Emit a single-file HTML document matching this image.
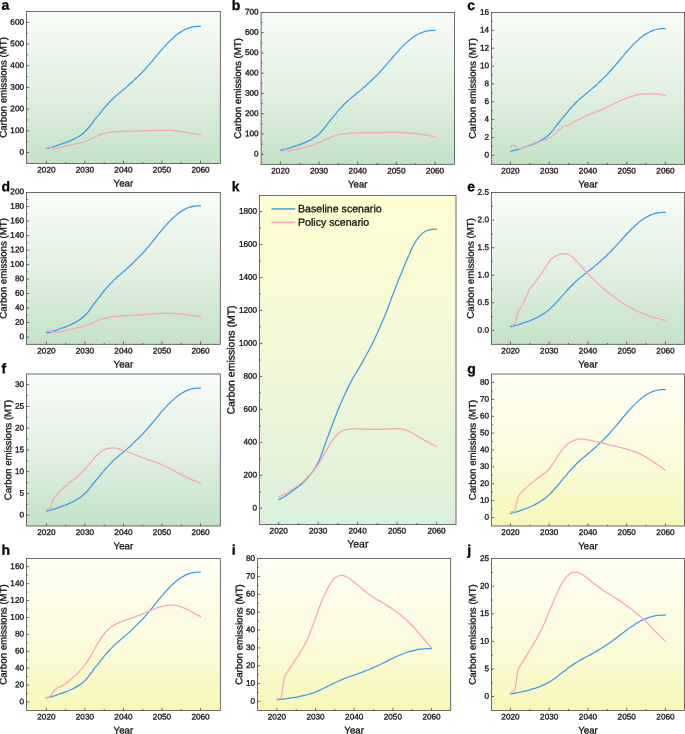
<!DOCTYPE html>
<html lang="en"><head><meta charset="utf-8"><title>Carbon emissions scenarios</title>
<style>html,body{margin:0;padding:0;background:#fff}body{width:685px;height:734px;overflow:hidden}svg{display:block;will-change:transform}text{font-family:"Liberation Sans",Arial,Helvetica,sans-serif;fill:#111;stroke:#111;stroke-width:0.3px;paint-order:stroke fill}.tk{font-size:8.2px}.ti{font-size:9.7px}.lt{font-size:14px;font-weight:bold;fill:#000;stroke:#000;stroke-width:0.25px}.lg{font-size:10.6px}.ax{stroke:#3c3c3c;stroke-width:0.75;fill:none}.tkm{stroke:#3a3a3a;stroke-width:0.72;fill:none}.bl{stroke:#3f9ae8;stroke-width:1.25;fill:none;stroke-linecap:round;stroke-linejoin:round}.pk{stroke:#f5a6b8;stroke-width:1.25;fill:none;stroke-linecap:round;stroke-linejoin:round}</style></head><body>
<svg width="685" height="734" viewBox="0 0 685 734">
<defs><linearGradient id="gg" x1="0" y1="0" x2="0" y2="1"><stop offset="0" stop-color="#f7fcf7"/><stop offset="0.5" stop-color="#e3f0e3"/><stop offset="1" stop-color="#c4e2c6"/></linearGradient><linearGradient id="gy" x1="0" y1="0" x2="0" y2="1"><stop offset="0" stop-color="#fffff3"/><stop offset="0.5" stop-color="#fbfbe0"/><stop offset="1" stop-color="#f8f7b8"/></linearGradient><linearGradient id="gk" x1="0" y1="0" x2="0" y2="1"><stop offset="0" stop-color="#fffed3"/><stop offset="0.5" stop-color="#f3f8d8"/><stop offset="1" stop-color="#daefda"/></linearGradient></defs>
<rect width="685" height="734" fill="#fff"/>
<g id="panel-a">
<rect x="26.50" y="11.50" width="193.80" height="151.90" fill="url(#gg)"/>
<path class="bl" d="M46.40 148.55 C47.68 148.28 48.97 148.01 50.25 147.67 C51.54 147.34 52.82 146.94 54.10 146.54 C55.39 146.13 56.67 145.64 57.96 145.21 C59.24 144.78 60.53 144.38 61.81 143.95 C63.09 143.52 64.38 143.10 65.66 142.63 C66.95 142.15 68.23 141.66 69.52 141.11 C70.80 140.57 72.08 139.98 73.37 139.35 C74.65 138.72 75.94 138.06 77.22 137.33 C78.50 136.60 79.79 135.85 81.07 134.93 C82.36 134.02 83.64 133.01 84.92 131.78 C86.21 130.55 87.49 129.06 88.78 127.49 C90.06 125.92 91.35 123.98 92.63 122.32 C93.91 120.66 95.20 119.10 96.48 117.53 C97.77 115.95 99.05 114.46 100.33 112.86 C101.62 111.26 102.90 109.45 104.19 107.94 C105.47 106.43 106.76 105.15 108.04 103.78 C109.32 102.41 110.61 101.02 111.89 99.74 C113.18 98.46 114.46 97.24 115.75 96.09 C117.03 94.93 118.31 93.88 119.60 92.81 C120.88 91.73 122.17 90.72 123.45 89.65 C124.73 88.58 126.02 87.49 127.30 86.37 C128.59 85.26 129.87 84.14 131.16 82.97 C132.44 81.79 133.72 80.53 135.01 79.31 C136.29 78.09 137.58 76.89 138.86 75.65 C140.14 74.41 141.43 73.21 142.71 71.87 C144.00 70.53 145.28 69.03 146.56 67.58 C147.85 66.13 149.13 64.66 150.42 63.17 C151.70 61.67 152.99 60.16 154.27 58.63 C155.55 57.09 156.84 55.49 158.12 53.96 C159.41 52.42 160.69 50.89 161.97 49.42 C163.26 47.95 164.54 46.52 165.83 45.13 C167.11 43.74 168.40 42.37 169.68 41.09 C170.96 39.81 172.25 38.57 173.53 37.44 C174.82 36.30 176.10 35.25 177.38 34.28 C178.67 33.32 179.95 32.43 181.24 31.63 C182.52 30.84 183.81 30.11 185.09 29.49 C186.37 28.86 187.66 28.28 188.94 27.85 C190.23 27.42 191.51 27.05 192.79 26.84 C194.08 26.64 195.36 26.44 196.65 26.40 C197.93 26.36 199.22 26.35 200.50 26.34"/>
<path class="pk" d="M46.40 148.13 C47.68 147.52 48.97 147.05 50.25 147.05 C51.54 147.05 52.82 149.00 54.10 149.00 C55.39 149.00 56.67 148.68 57.96 148.42 C59.24 148.16 60.53 147.56 61.81 147.17 C63.09 146.77 64.38 146.39 65.66 146.05 C66.95 145.71 68.23 145.41 69.52 145.13 C70.80 144.84 72.08 144.60 73.37 144.34 C74.65 144.08 75.94 143.83 77.22 143.55 C78.50 143.27 79.79 142.99 81.07 142.65 C82.36 142.31 83.64 141.95 84.92 141.50 C86.21 141.06 87.49 140.52 88.78 139.95 C90.06 139.39 91.35 138.72 92.63 138.10 C93.91 137.49 95.20 136.83 96.48 136.24 C97.77 135.66 99.05 135.07 100.33 134.59 C101.62 134.11 102.90 133.66 104.19 133.33 C105.47 132.99 106.76 132.73 108.04 132.52 C109.32 132.31 110.61 132.14 111.89 132.01 C113.18 131.88 114.46 131.78 115.75 131.70 C117.03 131.63 118.31 131.59 119.60 131.54 C120.88 131.50 122.17 131.47 123.45 131.44 C124.73 131.40 126.02 131.37 127.30 131.33 C128.59 131.30 129.87 131.26 131.16 131.23 C132.44 131.19 133.72 131.15 135.01 131.12 C136.29 131.08 137.58 131.05 138.86 131.01 C140.14 130.97 141.43 130.94 142.71 130.90 C144.00 130.86 145.28 130.81 146.56 130.77 C147.85 130.73 149.13 130.68 150.42 130.63 C151.70 130.59 152.99 130.54 154.27 130.51 C155.55 130.47 156.84 130.43 158.12 130.41 C159.41 130.40 160.69 130.38 161.97 130.38 C163.26 130.38 164.54 130.39 165.83 130.40 C167.11 130.41 168.40 130.44 169.68 130.47 C170.96 130.51 172.25 130.57 173.53 130.65 C174.82 130.74 176.10 130.90 177.38 131.06 C178.67 131.22 179.95 131.45 181.24 131.64 C182.52 131.84 183.81 132.05 185.09 132.26 C186.37 132.47 187.66 132.67 188.94 132.88 C190.23 133.09 191.51 133.31 192.79 133.53 C194.08 133.75 195.36 133.98 196.65 134.21 C197.93 134.44 199.22 134.67 200.50 134.91"/>
<path class="tkm" d="M46.40 163.40V160.70M65.66 163.40V162.00M84.92 163.40V160.70M104.19 163.40V162.00M123.45 163.40V160.70M142.71 163.40V162.00M161.97 163.40V160.70M181.24 163.40V162.00M200.50 163.40V160.70M26.50 152.46H29.20M26.50 130.79H29.20M26.50 109.12H29.20M26.50 87.45H29.20M26.50 65.78H29.20M26.50 44.11H29.20M26.50 22.44H29.20M26.50 141.63H27.90M26.50 119.96H27.90M26.50 98.29H27.90M26.50 76.61H27.90M26.50 54.94H27.90M26.50 33.27H27.90"/>
<rect class="ax" x="26.50" y="11.50" width="193.80" height="151.90"/>
<text class="tk" text-anchor="end" transform="translate(24.00 154.71) rotate(0.05)">0</text>
<text class="tk" text-anchor="end" transform="translate(24.00 133.04) rotate(0.05)">100</text>
<text class="tk" text-anchor="end" transform="translate(24.00 111.37) rotate(0.05)">200</text>
<text class="tk" text-anchor="end" transform="translate(24.00 89.70) rotate(0.05)">300</text>
<text class="tk" text-anchor="end" transform="translate(24.00 68.03) rotate(0.05)">400</text>
<text class="tk" text-anchor="end" transform="translate(24.00 46.36) rotate(0.05)">500</text>
<text class="tk" text-anchor="end" transform="translate(24.00 24.69) rotate(0.05)">600</text>
<text class="tk" text-anchor="middle" transform="translate(46.40 172.50) rotate(0.05)">2020</text>
<text class="tk" text-anchor="middle" transform="translate(84.92 172.50) rotate(0.05)">2030</text>
<text class="tk" text-anchor="middle" transform="translate(123.45 172.50) rotate(0.05)">2040</text>
<text class="tk" text-anchor="middle" transform="translate(161.97 172.50) rotate(0.05)">2050</text>
<text class="tk" text-anchor="middle" transform="translate(200.50 172.50) rotate(0.05)">2060</text>
<text class="ti" text-anchor="middle" transform="translate(123.40 186.60) rotate(0.05)">Year</text>
<text class="ti" text-anchor="middle" transform="translate(6.50 87.45) rotate(-89.95)">Carbon emissions (MT)</text>
<text class="lt" transform="translate(1.50 9.70) rotate(0.05)">a</text>
</g>
<g id="panel-b">
<rect x="261.10" y="12.40" width="193.40" height="151.90" fill="url(#gg)"/>
<path class="bl" d="M280.40 150.46 C281.69 150.19 282.98 149.92 284.26 149.59 C285.55 149.26 286.84 148.88 288.13 148.48 C289.42 148.07 290.71 147.60 292.00 147.17 C293.28 146.75 294.57 146.36 295.86 145.93 C297.15 145.51 298.44 145.10 299.72 144.63 C301.01 144.17 302.30 143.68 303.59 143.15 C304.88 142.61 306.17 142.03 307.45 141.41 C308.74 140.79 310.03 140.15 311.32 139.43 C312.61 138.71 313.90 137.97 315.19 137.07 C316.47 136.17 317.76 135.18 319.05 133.98 C320.34 132.77 321.63 131.30 322.91 129.76 C324.20 128.22 325.49 126.31 326.78 124.68 C328.07 123.05 329.36 121.52 330.64 119.97 C331.93 118.42 333.22 116.95 334.51 115.39 C335.80 113.82 337.09 112.03 338.38 110.55 C339.66 109.07 340.95 107.80 342.24 106.46 C343.53 105.12 344.82 103.76 346.11 102.50 C347.39 101.24 348.68 100.04 349.97 98.90 C351.26 97.77 352.55 96.73 353.83 95.68 C355.12 94.63 356.41 93.64 357.70 92.58 C358.99 91.53 360.28 90.45 361.56 89.36 C362.85 88.27 364.14 87.17 365.43 86.01 C366.72 84.86 368.01 83.62 369.29 82.42 C370.58 81.22 371.87 80.04 373.16 78.83 C374.45 77.61 375.74 76.43 377.02 75.11 C378.31 73.79 379.60 72.32 380.89 70.89 C382.18 69.47 383.47 68.02 384.75 66.56 C386.04 65.09 387.33 63.60 388.62 62.10 C389.91 60.59 391.20 59.02 392.49 57.51 C393.77 56.00 395.06 54.49 396.35 53.05 C397.64 51.60 398.93 50.20 400.22 48.83 C401.50 47.47 402.79 46.13 404.08 44.87 C405.37 43.61 406.66 42.39 407.94 41.27 C409.23 40.16 410.52 39.12 411.81 38.18 C413.10 37.23 414.39 36.35 415.68 35.57 C416.96 34.79 418.25 34.08 419.54 33.47 C420.83 32.85 422.12 32.28 423.40 31.86 C424.69 31.43 425.98 31.07 427.27 30.86 C428.56 30.66 429.85 30.47 431.13 30.43 C432.42 30.39 433.71 30.38 435.00 30.37"/>
<path class="pk" d="M280.40 149.43 C281.69 148.92 282.98 148.62 284.26 148.62 C285.55 148.62 286.84 150.65 288.13 150.65 C289.42 150.65 290.71 150.46 292.00 150.30 C293.28 150.14 294.57 149.79 295.86 149.51 C297.15 149.23 298.44 148.92 299.72 148.62 C301.01 148.32 302.30 148.03 303.59 147.70 C304.88 147.38 306.17 147.05 307.45 146.69 C308.74 146.33 310.03 145.94 311.32 145.53 C312.61 145.12 313.90 144.68 315.19 144.21 C316.47 143.73 317.76 143.22 319.05 142.68 C320.34 142.14 321.63 141.55 322.91 140.96 C324.20 140.37 325.49 139.74 326.78 139.14 C328.07 138.55 329.36 137.94 330.64 137.39 C331.93 136.84 333.22 136.28 334.51 135.83 C335.80 135.39 337.09 134.98 338.38 134.68 C339.66 134.38 340.95 134.16 342.24 133.98 C343.53 133.79 344.82 133.67 346.11 133.54 C347.39 133.42 348.68 133.31 349.97 133.22 C351.26 133.13 352.55 133.04 353.83 132.98 C355.12 132.91 356.41 132.86 357.70 132.82 C358.99 132.79 360.28 132.76 361.56 132.74 C362.85 132.72 364.14 132.71 365.43 132.70 C366.72 132.69 368.01 132.68 369.29 132.67 C370.58 132.66 371.87 132.65 373.16 132.63 C374.45 132.62 375.74 132.61 377.02 132.59 C378.31 132.57 379.60 132.55 380.89 132.53 C382.18 132.51 383.47 132.48 384.75 132.45 C386.04 132.43 387.33 132.40 388.62 132.38 C389.91 132.36 391.20 132.33 392.49 132.33 C393.77 132.32 395.06 132.32 396.35 132.32 C397.64 132.32 398.93 132.36 400.22 132.40 C401.50 132.43 402.79 132.50 404.08 132.57 C405.37 132.64 406.66 132.73 407.94 132.83 C409.23 132.93 410.52 133.04 411.81 133.18 C413.10 133.31 414.39 133.46 415.68 133.62 C416.96 133.78 418.25 133.96 419.54 134.14 C420.83 134.33 422.12 134.52 423.40 134.72 C424.69 134.93 425.98 135.14 427.27 135.37 C428.56 135.60 429.85 135.84 431.13 136.09 C432.42 136.33 433.71 136.60 435.00 136.86"/>
<path class="tkm" d="M280.40 164.30V161.60M299.72 164.30V162.90M319.05 164.30V161.60M338.38 164.30V162.90M357.70 164.30V161.60M377.02 164.30V162.90M396.35 164.30V161.60M415.68 164.30V162.90M435.00 164.30V161.60M261.10 154.30H263.80M261.10 134.02H263.80M261.10 113.73H263.80M261.10 93.45H263.80M261.10 73.17H263.80M261.10 52.88H263.80M261.10 32.60H263.80M261.10 144.16H262.50M261.10 123.88H262.50M261.10 103.59H262.50M261.10 83.31H262.50M261.10 63.03H262.50M261.10 42.74H262.50M261.10 22.46H262.50"/>
<rect class="ax" x="261.10" y="12.40" width="193.40" height="151.90"/>
<text class="tk" text-anchor="end" transform="translate(258.60 156.55) rotate(0.05)">0</text>
<text class="tk" text-anchor="end" transform="translate(258.60 136.27) rotate(0.05)">100</text>
<text class="tk" text-anchor="end" transform="translate(258.60 115.98) rotate(0.05)">200</text>
<text class="tk" text-anchor="end" transform="translate(258.60 95.70) rotate(0.05)">300</text>
<text class="tk" text-anchor="end" transform="translate(258.60 75.42) rotate(0.05)">400</text>
<text class="tk" text-anchor="end" transform="translate(258.60 55.13) rotate(0.05)">500</text>
<text class="tk" text-anchor="end" transform="translate(258.60 34.85) rotate(0.05)">600</text>
<text class="tk" text-anchor="end" transform="translate(258.60 14.57) rotate(0.05)">700</text>
<text class="tk" text-anchor="middle" transform="translate(280.40 173.40) rotate(0.05)">2020</text>
<text class="tk" text-anchor="middle" transform="translate(319.05 173.40) rotate(0.05)">2030</text>
<text class="tk" text-anchor="middle" transform="translate(357.70 173.40) rotate(0.05)">2040</text>
<text class="tk" text-anchor="middle" transform="translate(396.35 173.40) rotate(0.05)">2050</text>
<text class="tk" text-anchor="middle" transform="translate(435.00 173.40) rotate(0.05)">2060</text>
<text class="ti" text-anchor="middle" transform="translate(357.80 187.50) rotate(0.05)">Year</text>
<text class="ti" text-anchor="middle" transform="translate(241.00 88.35) rotate(-89.95)">Carbon emissions (MT)</text>
<text class="lt" transform="translate(231.80 9.90) rotate(0.05)">b</text>
</g>
<g id="panel-c">
<rect x="491.50" y="12.40" width="193.10" height="151.90" fill="url(#gg)"/>
<path class="bl" d="M510.45 151.35 C511.74 151.07 513.03 150.80 514.33 150.46 C515.62 150.13 516.91 149.73 518.20 149.32 C519.49 148.91 520.78 148.42 522.08 147.99 C523.37 147.56 524.66 147.16 525.95 146.72 C527.24 146.29 528.53 145.87 529.83 145.39 C531.12 144.92 532.41 144.42 533.70 143.87 C534.99 143.32 536.28 142.73 537.58 142.10 C538.87 141.47 540.16 140.81 541.45 140.07 C542.74 139.33 544.03 138.58 545.33 137.66 C546.62 136.74 547.91 135.73 549.20 134.50 C550.49 133.26 551.78 131.76 553.08 130.19 C554.37 128.61 555.66 126.66 556.95 124.99 C558.24 123.32 559.53 121.76 560.83 120.18 C562.12 118.59 563.41 117.09 564.70 115.49 C565.99 113.88 567.28 112.06 568.58 110.55 C569.87 109.03 571.16 107.74 572.45 106.36 C573.74 104.99 575.03 103.60 576.33 102.31 C577.62 101.02 578.91 99.80 580.20 98.64 C581.49 97.48 582.78 96.42 584.08 95.34 C585.37 94.26 586.66 93.25 587.95 92.17 C589.24 91.10 590.53 90.00 591.83 88.88 C593.12 87.76 594.41 86.64 595.70 85.46 C596.99 84.28 598.28 83.01 599.58 81.78 C600.87 80.56 602.16 79.35 603.45 78.11 C604.74 76.86 606.03 75.66 607.33 74.31 C608.62 72.96 609.91 71.45 611.20 70.00 C612.49 68.54 613.78 67.06 615.08 65.56 C616.37 64.06 617.66 62.54 618.95 61.00 C620.24 59.46 621.53 57.85 622.83 56.31 C624.12 54.77 625.41 53.23 626.70 51.75 C627.99 50.27 629.28 48.84 630.58 47.44 C631.87 46.05 633.16 44.67 634.45 43.39 C635.74 42.10 637.03 40.85 638.33 39.71 C639.62 38.58 640.91 37.51 642.20 36.55 C643.49 35.58 644.78 34.68 646.08 33.88 C647.37 33.09 648.66 32.36 649.95 31.73 C651.24 31.10 652.53 30.51 653.83 30.08 C655.12 29.65 656.41 29.27 657.70 29.07 C658.99 28.86 660.28 28.66 661.58 28.63 C662.87 28.59 664.16 28.57 665.45 28.56"/>
<path class="pk" d="M510.45 147.16 C511.74 146.03 513.03 145.19 514.33 145.19 C515.62 145.19 516.91 148.94 518.20 148.94 C519.49 148.94 520.78 148.29 522.08 147.87 C523.37 147.45 524.66 146.90 525.95 146.39 C527.24 145.89 528.53 145.31 529.83 144.84 C531.12 144.36 532.41 143.94 533.70 143.51 C534.99 143.08 536.28 142.68 537.58 142.27 C538.87 141.85 540.16 141.41 541.45 141.00 C542.74 140.59 544.03 140.24 545.33 139.80 C546.62 139.36 547.91 139.00 549.20 138.32 C550.49 137.65 551.78 136.58 553.08 135.56 C554.37 134.54 555.66 133.37 556.95 132.16 C558.24 130.96 559.53 129.40 560.83 128.35 C562.12 127.29 563.41 125.99 564.70 125.74 C565.99 125.49 567.28 125.55 568.58 125.29 C569.87 125.04 571.16 123.56 572.45 122.79 C573.74 122.03 575.03 121.38 576.33 120.70 C577.62 120.02 578.91 119.36 580.20 118.72 C581.49 118.08 582.78 117.47 584.08 116.87 C585.37 116.28 586.66 115.71 587.95 115.17 C589.24 114.63 590.53 114.12 591.83 113.62 C593.12 113.12 594.41 112.65 595.70 112.15 C596.99 111.65 598.28 111.15 599.58 110.61 C600.87 110.06 602.16 109.49 603.45 108.90 C604.74 108.31 606.03 107.69 607.33 107.06 C608.62 106.43 609.91 105.78 611.20 105.13 C612.49 104.48 613.78 103.81 615.08 103.18 C616.37 102.55 617.66 101.92 618.95 101.34 C620.24 100.76 621.53 100.21 622.83 99.68 C624.12 99.16 625.41 98.66 626.70 98.18 C627.99 97.70 629.28 97.22 630.58 96.78 C631.87 96.35 633.16 95.91 634.45 95.56 C635.74 95.22 637.03 94.92 638.33 94.70 C639.62 94.48 640.91 94.32 642.20 94.19 C643.49 94.07 644.78 93.98 646.08 93.92 C647.37 93.85 648.66 93.78 649.95 93.78 C651.24 93.78 652.53 93.78 653.83 93.78 C655.12 93.78 656.41 93.92 657.70 94.04 C658.99 94.17 660.28 94.41 661.58 94.65 C662.87 94.89 664.16 95.19 665.45 95.49"/>
<path class="tkm" d="M510.45 164.30V161.60M529.83 164.30V162.90M549.20 164.30V161.60M568.58 164.30V162.90M587.95 164.30V161.60M607.33 164.30V162.90M626.70 164.30V161.60M646.08 164.30V162.90M665.45 164.30V161.60M491.50 155.28H494.20M491.50 137.43H494.20M491.50 119.58H494.20M491.50 101.74H494.20M491.50 83.89H494.20M491.50 66.04H494.20M491.50 48.19H494.20M491.50 30.35H494.20M491.50 146.35H492.90M491.50 128.51H492.90M491.50 110.66H492.90M491.50 92.81H492.90M491.50 74.96H492.90M491.50 57.12H492.90M491.50 39.27H492.90M491.50 21.42H492.90"/>
<rect class="ax" x="491.50" y="12.40" width="193.10" height="151.90"/>
<text class="tk" text-anchor="end" transform="translate(489.00 157.53) rotate(0.05)">0</text>
<text class="tk" text-anchor="end" transform="translate(489.00 139.68) rotate(0.05)">2</text>
<text class="tk" text-anchor="end" transform="translate(489.00 121.83) rotate(0.05)">4</text>
<text class="tk" text-anchor="end" transform="translate(489.00 103.99) rotate(0.05)">6</text>
<text class="tk" text-anchor="end" transform="translate(489.00 86.14) rotate(0.05)">8</text>
<text class="tk" text-anchor="end" transform="translate(489.00 68.29) rotate(0.05)">10</text>
<text class="tk" text-anchor="end" transform="translate(489.00 50.44) rotate(0.05)">12</text>
<text class="tk" text-anchor="end" transform="translate(489.00 32.60) rotate(0.05)">14</text>
<text class="tk" text-anchor="end" transform="translate(489.00 14.75) rotate(0.05)">16</text>
<text class="tk" text-anchor="middle" transform="translate(510.45 173.40) rotate(0.05)">2020</text>
<text class="tk" text-anchor="middle" transform="translate(549.20 173.40) rotate(0.05)">2030</text>
<text class="tk" text-anchor="middle" transform="translate(587.95 173.40) rotate(0.05)">2040</text>
<text class="tk" text-anchor="middle" transform="translate(626.70 173.40) rotate(0.05)">2050</text>
<text class="tk" text-anchor="middle" transform="translate(665.45 173.40) rotate(0.05)">2060</text>
<text class="ti" text-anchor="middle" transform="translate(588.05 187.50) rotate(0.05)">Year</text>
<text class="ti" text-anchor="middle" transform="translate(475.70 88.35) rotate(-89.95)">Carbon emissions (MT)</text>
<text class="lt" transform="translate(467.30 9.90) rotate(0.05)">c</text>
</g>
<g id="panel-d">
<rect x="26.50" y="192.40" width="193.80" height="151.90" fill="url(#gg)"/>
<path class="bl" d="M46.40 332.98 C47.68 332.70 48.97 332.41 50.25 332.07 C51.54 331.72 52.82 331.31 54.10 330.88 C55.39 330.46 56.67 329.96 57.96 329.51 C59.24 329.06 60.53 328.64 61.81 328.20 C63.09 327.75 64.38 327.31 65.66 326.82 C66.95 326.33 68.23 325.81 69.52 325.24 C70.80 324.68 72.08 324.06 73.37 323.41 C74.65 322.75 75.94 322.07 77.22 321.31 C78.50 320.55 79.79 319.77 81.07 318.82 C82.36 317.86 83.64 316.81 84.92 315.54 C86.21 314.26 87.49 312.71 88.78 311.08 C90.06 309.44 91.35 307.43 92.63 305.70 C93.91 303.97 95.20 302.35 96.48 300.71 C97.77 299.08 99.05 297.52 100.33 295.86 C101.62 294.20 102.90 292.31 104.19 290.75 C105.47 289.18 106.76 287.84 108.04 286.42 C109.32 285.00 110.61 283.55 111.89 282.22 C113.18 280.89 114.46 279.62 115.75 278.41 C117.03 277.21 118.31 276.12 119.60 275.00 C120.88 273.89 122.17 272.84 123.45 271.72 C124.73 270.61 126.02 269.47 127.30 268.31 C128.59 267.16 129.87 266.00 131.16 264.77 C132.44 263.55 133.72 262.24 135.01 260.97 C136.29 259.70 137.58 258.45 138.86 257.16 C140.14 255.87 141.43 254.63 142.71 253.23 C144.00 251.83 145.28 250.28 146.56 248.77 C147.85 247.26 149.13 245.73 150.42 244.18 C151.70 242.63 152.99 241.05 154.27 239.46 C155.55 237.86 156.84 236.20 158.12 234.60 C159.41 233.01 160.69 231.41 161.97 229.88 C163.26 228.35 164.54 226.86 165.83 225.42 C167.11 223.98 168.40 222.55 169.68 221.22 C170.96 219.89 172.25 218.60 173.53 217.42 C174.82 216.24 176.10 215.14 177.38 214.14 C178.67 213.14 179.95 212.21 181.24 211.38 C182.52 210.56 183.81 209.80 185.09 209.15 C186.37 208.50 187.66 207.90 188.94 207.45 C190.23 207.00 191.51 206.61 192.79 206.40 C194.08 206.19 195.36 205.98 196.65 205.94 C197.93 205.90 199.22 205.89 200.50 205.88"/>
<path class="pk" d="M46.40 331.32 C47.68 330.94 48.97 330.74 50.25 330.74 C51.54 330.74 52.82 332.48 54.10 332.48 C55.39 332.48 56.67 332.30 57.96 332.14 C59.24 331.98 60.53 331.63 61.81 331.37 C63.09 331.10 64.38 330.81 65.66 330.54 C66.95 330.26 68.23 329.99 69.52 329.70 C70.80 329.42 72.08 329.13 73.37 328.83 C74.65 328.53 75.94 328.23 77.22 327.92 C78.50 327.61 79.79 327.32 81.07 326.97 C82.36 326.63 83.64 326.28 84.92 325.86 C86.21 325.45 87.49 324.96 88.78 324.46 C90.06 323.95 91.35 323.38 92.63 322.83 C93.91 322.29 95.20 321.72 96.48 321.20 C97.77 320.68 99.05 320.15 100.33 319.69 C101.62 319.24 102.90 318.81 104.19 318.46 C105.47 318.11 106.76 317.82 108.04 317.57 C109.32 317.31 110.61 317.10 111.89 316.92 C113.18 316.73 114.46 316.57 115.75 316.43 C117.03 316.30 118.31 316.19 119.60 316.09 C120.88 315.99 122.17 315.90 123.45 315.82 C124.73 315.74 126.02 315.66 127.30 315.59 C128.59 315.51 129.87 315.44 131.16 315.37 C132.44 315.30 133.72 315.24 135.01 315.17 C136.29 315.10 137.58 315.03 138.86 314.96 C140.14 314.88 141.43 314.80 142.71 314.72 C144.00 314.63 145.28 314.54 146.56 314.45 C147.85 314.36 149.13 314.26 150.42 314.16 C151.70 314.06 152.99 313.95 154.27 313.84 C155.55 313.74 156.84 313.62 158.12 313.53 C159.41 313.45 160.69 313.36 161.97 313.33 C163.26 313.30 164.54 313.28 165.83 313.28 C167.11 313.28 168.40 313.30 169.68 313.32 C170.96 313.34 172.25 313.40 173.53 313.47 C174.82 313.55 176.10 313.66 177.38 313.77 C178.67 313.89 179.95 314.02 181.24 314.15 C182.52 314.28 183.81 314.41 185.09 314.56 C186.37 314.70 187.66 314.85 188.94 315.01 C190.23 315.17 191.51 315.34 192.79 315.52 C194.08 315.70 195.36 315.89 196.65 316.08 C197.93 316.28 199.22 316.48 200.50 316.69"/>
<path class="tkm" d="M46.40 344.30V341.60M65.66 344.30V342.90M84.92 344.30V341.60M104.19 344.30V342.90M123.45 344.30V341.60M142.71 344.30V342.90M161.97 344.30V341.60M181.24 344.30V342.90M200.50 344.30V341.60M26.50 337.05H29.20M26.50 322.56H29.20M26.50 308.06H29.20M26.50 293.57H29.20M26.50 279.07H29.20M26.50 264.58H29.20M26.50 250.08H29.20M26.50 235.59H29.20M26.50 221.09H29.20M26.50 206.60H29.20M26.50 329.80H27.90M26.50 315.31H27.90M26.50 300.81H27.90M26.50 286.32H27.90M26.50 271.82H27.90M26.50 257.33H27.90M26.50 242.84H27.90M26.50 228.34H27.90M26.50 213.85H27.90M26.50 199.35H27.90"/>
<rect class="ax" x="26.50" y="192.40" width="193.80" height="151.90"/>
<text class="tk" text-anchor="end" transform="translate(24.00 339.30) rotate(0.05)">0</text>
<text class="tk" text-anchor="end" transform="translate(24.00 324.81) rotate(0.05)">20</text>
<text class="tk" text-anchor="end" transform="translate(24.00 310.31) rotate(0.05)">40</text>
<text class="tk" text-anchor="end" transform="translate(24.00 295.82) rotate(0.05)">60</text>
<text class="tk" text-anchor="end" transform="translate(24.00 281.32) rotate(0.05)">80</text>
<text class="tk" text-anchor="end" transform="translate(24.00 266.83) rotate(0.05)">100</text>
<text class="tk" text-anchor="end" transform="translate(24.00 252.33) rotate(0.05)">120</text>
<text class="tk" text-anchor="end" transform="translate(24.00 237.84) rotate(0.05)">140</text>
<text class="tk" text-anchor="end" transform="translate(24.00 223.34) rotate(0.05)">160</text>
<text class="tk" text-anchor="end" transform="translate(24.00 208.85) rotate(0.05)">180</text>
<text class="tk" text-anchor="end" transform="translate(24.00 194.36) rotate(0.05)">200</text>
<text class="tk" text-anchor="middle" transform="translate(46.40 353.40) rotate(0.05)">2020</text>
<text class="tk" text-anchor="middle" transform="translate(84.92 353.40) rotate(0.05)">2030</text>
<text class="tk" text-anchor="middle" transform="translate(123.45 353.40) rotate(0.05)">2040</text>
<text class="tk" text-anchor="middle" transform="translate(161.97 353.40) rotate(0.05)">2050</text>
<text class="tk" text-anchor="middle" transform="translate(200.50 353.40) rotate(0.05)">2060</text>
<text class="ti" text-anchor="middle" transform="translate(123.40 367.50) rotate(0.05)">Year</text>
<text class="ti" text-anchor="middle" transform="translate(6.50 268.35) rotate(-89.95)">Carbon emissions (MT)</text>
<text class="lt" transform="translate(1.60 191.30) rotate(0.05)">d</text>
</g>
<g id="panel-e">
<rect x="491.50" y="192.40" width="193.10" height="151.90" fill="url(#gg)"/>
<path class="bl" d="M510.45 326.75 C511.74 326.44 513.03 326.14 514.33 325.81 C515.62 325.47 516.91 325.13 518.20 324.74 C519.49 324.35 520.78 323.88 522.08 323.44 C523.37 323.01 524.66 322.60 525.95 322.15 C527.24 321.69 528.53 321.24 529.83 320.73 C531.12 320.22 532.41 319.67 533.70 319.08 C534.99 318.49 536.28 317.86 537.58 317.19 C538.87 316.52 540.16 315.85 541.45 315.06 C542.74 314.28 544.03 313.39 545.33 312.47 C546.62 311.54 547.91 310.63 549.20 309.51 C550.49 308.40 551.78 307.05 553.08 305.74 C554.37 304.42 555.66 303.00 556.95 301.60 C558.24 300.21 559.53 298.77 560.83 297.36 C562.12 295.94 563.41 294.54 564.70 293.11 C565.99 291.67 567.28 290.11 568.58 288.74 C569.87 287.36 571.16 286.12 572.45 284.84 C573.74 283.56 575.03 282.26 576.33 281.06 C577.62 279.87 578.91 278.72 580.20 277.64 C581.49 276.56 582.78 275.57 584.08 274.57 C585.37 273.57 586.66 272.62 587.95 271.62 C589.24 270.62 590.53 269.59 591.83 268.55 C593.12 267.51 594.41 266.46 595.70 265.36 C596.99 264.26 598.28 263.08 599.58 261.94 C600.87 260.80 602.16 259.68 603.45 258.52 C604.74 257.36 606.03 256.23 607.33 254.98 C608.62 253.72 609.91 252.32 611.20 250.96 C612.49 249.60 613.78 248.23 615.08 246.83 C616.37 245.43 617.66 244.02 618.95 242.58 C620.24 241.14 621.53 239.65 622.83 238.21 C624.12 236.78 625.41 235.34 626.70 233.96 C627.99 232.59 629.28 231.25 630.58 229.95 C631.87 228.65 633.16 227.37 634.45 226.17 C635.74 224.97 637.03 223.81 638.33 222.75 C639.62 221.69 640.91 220.70 642.20 219.80 C643.49 218.89 644.78 218.06 646.08 217.32 C647.37 216.57 648.66 215.90 649.95 215.31 C651.24 214.73 652.53 214.18 653.83 213.78 C655.12 213.37 656.41 213.02 657.70 212.83 C658.99 212.64 660.28 212.45 661.58 212.42 C662.87 212.38 664.16 212.37 665.45 212.36"/>
<path class="pk" d="M510.45 325.61 C511.74 325.41 513.03 325.13 514.33 324.40 C515.62 323.66 516.91 314.79 518.20 311.71 C519.49 308.62 520.78 307.35 522.08 304.98 C523.37 302.61 524.66 300.21 525.95 297.48 C527.24 294.74 528.53 290.47 529.83 288.48 C531.12 286.49 532.41 285.63 533.70 284.02 C534.99 282.40 536.28 280.51 537.58 278.78 C538.87 277.04 540.16 275.46 541.45 273.59 C542.74 271.72 544.03 269.54 545.33 267.52 C546.62 265.51 547.91 263.08 549.20 261.51 C550.49 259.94 551.78 258.81 553.08 257.81 C554.37 256.82 555.66 256.05 556.95 255.41 C558.24 254.78 559.53 254.08 560.83 253.88 C562.12 253.68 563.41 253.51 564.70 253.51 C565.99 253.51 567.28 254.04 568.58 254.52 C569.87 255.00 571.16 256.05 572.45 257.10 C573.74 258.14 575.03 259.55 576.33 260.92 C577.62 262.28 578.91 263.83 580.20 265.29 C581.49 266.74 582.78 268.22 584.08 269.65 C585.37 271.07 586.66 272.46 587.95 273.84 C589.24 275.21 590.53 276.59 591.83 277.89 C593.12 279.20 594.41 280.46 595.70 281.67 C596.99 282.88 598.28 284.01 599.58 285.15 C600.87 286.28 602.16 287.39 603.45 288.48 C604.74 289.58 606.03 290.68 607.33 291.74 C608.62 292.80 609.91 293.84 611.20 294.85 C612.49 295.86 613.78 296.84 615.08 297.80 C616.37 298.75 617.66 299.68 618.95 300.58 C620.24 301.47 621.53 302.35 622.83 303.17 C624.12 303.99 625.41 304.78 626.70 305.52 C627.99 306.27 629.28 306.97 630.58 307.65 C631.87 308.33 633.16 308.99 634.45 309.62 C635.74 310.26 637.03 310.87 638.33 311.46 C639.62 312.04 640.91 312.60 642.20 313.13 C643.49 313.67 644.78 314.17 646.08 314.65 C647.37 315.14 648.66 315.60 649.95 316.04 C651.24 316.48 652.53 316.91 653.83 317.32 C655.12 317.73 656.41 318.12 657.70 318.49 C658.99 318.86 660.28 319.21 661.58 319.54 C662.87 319.87 664.16 320.17 665.45 320.48"/>
<path class="tkm" d="M510.45 344.30V341.60M529.83 344.30V342.90M549.20 344.30V341.60M568.58 344.30V342.90M587.95 344.30V341.60M607.33 344.30V342.90M626.70 344.30V341.60M646.08 344.30V342.90M665.45 344.30V341.60M491.50 330.41H494.20M491.50 302.83H494.20M491.50 275.25H494.20M491.50 247.66H494.20M491.50 220.08H494.20M491.50 316.62H492.90M491.50 289.04H492.90M491.50 261.45H492.90M491.50 233.87H492.90M491.50 206.29H492.90"/>
<rect class="ax" x="491.50" y="192.40" width="193.10" height="151.90"/>
<text class="tk" text-anchor="end" transform="translate(489.00 332.66) rotate(0.05)">0.0</text>
<text class="tk" text-anchor="end" transform="translate(489.00 305.08) rotate(0.05)">0.5</text>
<text class="tk" text-anchor="end" transform="translate(489.00 277.50) rotate(0.05)">1.0</text>
<text class="tk" text-anchor="end" transform="translate(489.00 249.91) rotate(0.05)">1.5</text>
<text class="tk" text-anchor="end" transform="translate(489.00 222.33) rotate(0.05)">2.0</text>
<text class="tk" text-anchor="end" transform="translate(489.00 194.75) rotate(0.05)">2.5</text>
<text class="tk" text-anchor="middle" transform="translate(510.45 353.40) rotate(0.05)">2020</text>
<text class="tk" text-anchor="middle" transform="translate(549.20 353.40) rotate(0.05)">2030</text>
<text class="tk" text-anchor="middle" transform="translate(587.95 353.40) rotate(0.05)">2040</text>
<text class="tk" text-anchor="middle" transform="translate(626.70 353.40) rotate(0.05)">2050</text>
<text class="tk" text-anchor="middle" transform="translate(665.45 353.40) rotate(0.05)">2060</text>
<text class="ti" text-anchor="middle" transform="translate(588.05 367.50) rotate(0.05)">Year</text>
<text class="ti" text-anchor="middle" transform="translate(473.80 268.35) rotate(-89.95)">Carbon emissions (MT)</text>
<text class="lt" transform="translate(467.30 191.30) rotate(0.05)">e</text>
</g>
<g id="panel-f">
<rect x="26.50" y="374.00" width="193.80" height="152.00" fill="url(#gg)"/>
<path class="bl" d="M46.40 511.21 C47.68 510.91 48.97 510.61 50.25 510.26 C51.54 509.91 52.82 509.54 54.10 509.12 C55.39 508.70 56.67 508.20 57.96 507.75 C59.24 507.30 60.53 506.88 61.81 506.42 C63.09 505.96 64.38 505.50 65.66 504.99 C66.95 504.48 68.23 503.93 69.52 503.34 C70.80 502.75 72.08 502.11 73.37 501.44 C74.65 500.76 75.94 500.07 77.22 499.28 C78.50 498.49 79.79 497.63 81.07 496.68 C82.36 495.72 83.64 494.72 84.92 493.50 C86.21 492.29 87.49 490.81 88.78 489.31 C90.06 487.81 91.35 486.07 92.63 484.49 C93.91 482.90 95.20 481.34 96.48 479.79 C97.77 478.23 99.05 476.73 100.33 475.15 C101.62 473.58 102.90 471.83 104.19 470.33 C105.47 468.83 106.76 467.51 108.04 466.14 C109.32 464.76 110.61 463.37 111.89 462.08 C113.18 460.79 114.46 459.56 115.75 458.39 C117.03 457.23 118.31 456.17 119.60 455.09 C120.88 454.01 122.17 453.00 123.45 451.92 C124.73 450.84 126.02 449.74 127.30 448.62 C128.59 447.50 129.87 446.37 131.16 445.19 C132.44 444.00 133.72 442.73 135.01 441.51 C136.29 440.28 137.58 439.07 138.86 437.82 C140.14 436.58 141.43 435.37 142.71 434.02 C144.00 432.66 145.28 431.16 146.56 429.70 C147.85 428.24 149.13 426.76 150.42 425.25 C151.70 423.75 152.99 422.23 154.27 420.68 C155.55 419.14 156.84 417.53 158.12 415.99 C159.41 414.44 160.69 412.90 161.97 411.41 C163.26 409.93 164.54 408.49 165.83 407.10 C167.11 405.70 168.40 404.32 169.68 403.03 C170.96 401.74 172.25 400.49 173.53 399.35 C174.82 398.21 176.10 397.15 177.38 396.18 C178.67 395.21 179.95 394.31 181.24 393.51 C182.52 392.71 183.81 391.98 185.09 391.35 C186.37 390.72 187.66 390.13 188.94 389.70 C190.23 389.27 191.51 388.89 192.79 388.69 C194.08 388.48 195.36 388.28 196.65 388.24 C197.93 388.21 199.22 388.19 200.50 388.18"/>
<path class="pk" d="M46.40 509.67 C47.68 509.50 48.97 509.26 50.25 508.63 C51.54 507.99 52.82 499.75 54.10 497.76 C55.39 495.76 56.67 495.01 57.96 493.63 C59.24 492.24 60.53 490.74 61.81 489.43 C63.09 488.13 64.38 486.92 65.66 485.78 C66.95 484.65 68.23 483.63 69.52 482.63 C70.80 481.63 72.08 480.75 73.37 479.78 C74.65 478.80 75.94 477.83 77.22 476.75 C78.50 475.68 79.79 474.54 81.07 473.30 C82.36 472.06 83.64 470.70 84.92 469.27 C86.21 467.84 87.49 466.23 88.78 464.70 C90.06 463.16 91.35 461.54 92.63 460.06 C93.91 458.58 95.20 457.11 96.48 455.81 C97.77 454.51 99.05 453.23 100.33 452.24 C101.62 451.26 102.90 450.39 104.19 449.79 C105.47 449.18 106.76 448.70 108.04 448.45 C109.32 448.21 110.61 447.94 111.89 447.94 C113.18 447.94 114.46 448.04 115.75 448.15 C117.03 448.27 118.31 448.69 119.60 449.04 C120.88 449.40 122.17 449.89 123.45 450.34 C124.73 450.80 126.02 451.28 127.30 451.76 C128.59 452.24 129.87 452.72 131.16 453.22 C132.44 453.71 133.72 454.21 135.01 454.72 C136.29 455.22 137.58 455.74 138.86 456.24 C140.14 456.74 141.43 457.24 142.71 457.71 C144.00 458.18 145.28 458.62 146.56 459.06 C147.85 459.50 149.13 459.92 150.42 460.36 C151.70 460.79 152.99 461.23 154.27 461.70 C155.55 462.16 156.84 462.65 158.12 463.15 C159.41 463.66 160.69 464.19 161.97 464.75 C163.26 465.31 164.54 465.90 165.83 466.50 C167.11 467.11 168.40 467.74 169.68 468.39 C170.96 469.04 172.25 469.72 173.53 470.41 C174.82 471.10 176.10 471.84 177.38 472.55 C178.67 473.25 179.95 473.97 181.24 474.65 C182.52 475.32 183.81 475.97 185.09 476.60 C186.37 477.22 187.66 477.83 188.94 478.42 C190.23 479.00 191.51 479.58 192.79 480.13 C194.08 480.68 195.36 481.20 196.65 481.71 C197.93 482.22 199.22 482.71 200.50 483.19"/>
<path class="tkm" d="M46.40 526.00V523.30M65.66 526.00V524.60M84.92 526.00V523.30M104.19 526.00V524.60M123.45 526.00V523.30M142.71 526.00V524.60M161.97 526.00V523.30M181.24 526.00V524.60M200.50 526.00V523.30M26.50 515.15H29.20M26.50 493.41H29.20M26.50 471.67H29.20M26.50 449.92H29.20M26.50 428.18H29.20M26.50 406.44H29.20M26.50 384.70H29.20M26.50 504.28H27.90M26.50 482.54H27.90M26.50 460.80H27.90M26.50 439.05H27.90M26.50 417.31H27.90M26.50 395.57H27.90"/>
<rect class="ax" x="26.50" y="374.00" width="193.80" height="152.00"/>
<text class="tk" text-anchor="end" transform="translate(24.00 517.40) rotate(0.05)">0</text>
<text class="tk" text-anchor="end" transform="translate(24.00 495.66) rotate(0.05)">5</text>
<text class="tk" text-anchor="end" transform="translate(24.00 473.92) rotate(0.05)">10</text>
<text class="tk" text-anchor="end" transform="translate(24.00 452.17) rotate(0.05)">15</text>
<text class="tk" text-anchor="end" transform="translate(24.00 430.43) rotate(0.05)">20</text>
<text class="tk" text-anchor="end" transform="translate(24.00 408.69) rotate(0.05)">25</text>
<text class="tk" text-anchor="end" transform="translate(24.00 386.95) rotate(0.05)">30</text>
<text class="tk" text-anchor="middle" transform="translate(46.40 535.10) rotate(0.05)">2020</text>
<text class="tk" text-anchor="middle" transform="translate(84.92 535.10) rotate(0.05)">2030</text>
<text class="tk" text-anchor="middle" transform="translate(123.45 535.10) rotate(0.05)">2040</text>
<text class="tk" text-anchor="middle" transform="translate(161.97 535.10) rotate(0.05)">2050</text>
<text class="tk" text-anchor="middle" transform="translate(200.50 535.10) rotate(0.05)">2060</text>
<text class="ti" text-anchor="middle" transform="translate(123.40 549.20) rotate(0.05)">Year</text>
<text class="ti" text-anchor="middle" transform="translate(11.30 450.00) rotate(-89.95)">Carbon emissions (MT)</text>
<text class="lt" transform="translate(1.40 373.30) rotate(0.05)">f</text>
</g>
<g id="panel-g">
<rect x="491.50" y="374.00" width="193.10" height="152.00" fill="url(#gy)"/>
<path class="bl" d="M510.45 513.50 C511.74 513.17 513.03 512.84 514.33 512.48 C515.62 512.12 516.91 511.75 518.20 511.33 C519.49 510.91 520.78 510.39 522.08 509.92 C523.37 509.45 524.66 509.01 525.95 508.52 C527.24 508.03 528.53 507.54 529.83 506.98 C531.12 506.43 532.41 505.83 533.70 505.19 C534.99 504.56 536.28 503.87 537.58 503.15 C538.87 502.42 540.16 501.69 541.45 500.85 C542.74 500.00 544.03 499.03 545.33 498.03 C546.62 497.03 547.91 496.04 549.20 494.84 C550.49 493.63 551.78 492.17 553.08 490.75 C554.37 489.32 555.66 487.78 556.95 486.27 C558.24 484.76 559.53 483.20 560.83 481.67 C562.12 480.13 563.41 478.62 564.70 477.07 C565.99 475.51 567.28 473.82 568.58 472.34 C569.87 470.85 571.16 469.50 572.45 468.12 C573.74 466.73 575.03 465.32 576.33 464.03 C577.62 462.73 578.91 461.49 580.20 460.32 C581.49 459.15 582.78 458.08 584.08 456.99 C585.37 455.91 586.66 454.88 587.95 453.80 C589.24 452.71 590.53 451.60 591.83 450.47 C593.12 449.34 594.41 448.21 595.70 447.02 C596.99 445.83 598.28 444.55 599.58 443.31 C600.87 442.08 602.16 440.86 603.45 439.61 C604.74 438.35 606.03 437.13 607.33 435.77 C608.62 434.41 609.91 432.89 611.20 431.42 C612.49 429.95 613.78 428.46 615.08 426.95 C616.37 425.44 617.66 423.90 618.95 422.35 C620.24 420.79 621.53 419.17 622.83 417.62 C624.12 416.06 625.41 414.50 626.70 413.01 C627.99 411.52 629.28 410.07 630.58 408.67 C631.87 407.26 633.16 405.87 634.45 404.58 C635.74 403.28 637.03 402.02 638.33 400.87 C639.62 399.72 640.91 398.65 642.20 397.67 C643.49 396.70 644.78 395.79 646.08 394.99 C647.37 394.18 648.66 393.45 649.95 392.81 C651.24 392.18 652.53 391.59 653.83 391.15 C655.12 390.72 656.41 390.34 657.70 390.13 C658.99 389.92 660.28 389.72 661.58 389.68 C662.87 389.64 664.16 389.63 665.45 389.62"/>
<path class="pk" d="M510.45 511.90 C511.74 511.76 513.03 511.59 514.33 511.06 C515.62 510.53 516.91 498.77 518.20 496.38 C519.49 494.00 520.78 493.06 522.08 491.66 C523.37 490.26 524.66 489.09 525.95 487.92 C527.24 486.75 528.53 485.69 529.83 484.60 C531.12 483.52 532.41 482.44 533.70 481.38 C534.99 480.33 536.28 479.29 537.58 478.29 C538.87 477.30 540.16 476.35 541.45 475.40 C542.74 474.46 544.03 473.69 545.33 472.64 C546.62 471.58 547.91 470.48 549.20 469.01 C550.49 467.53 551.78 465.54 553.08 463.61 C554.37 461.68 555.66 459.37 556.95 457.38 C558.24 455.39 559.53 453.41 560.83 451.66 C562.12 449.92 563.41 448.24 564.70 446.86 C565.99 445.47 567.28 444.23 568.58 443.27 C569.87 442.31 571.16 441.55 572.45 440.95 C573.74 440.35 575.03 439.82 576.33 439.55 C577.62 439.28 578.91 438.97 580.20 438.97 C581.49 438.97 582.78 439.09 584.08 439.20 C585.37 439.32 586.66 439.64 587.95 439.88 C589.24 440.12 590.53 440.39 591.83 440.66 C593.12 440.93 594.41 441.21 595.70 441.51 C596.99 441.80 598.28 442.11 599.58 442.43 C600.87 442.75 602.16 443.09 603.45 443.42 C604.74 443.75 606.03 444.09 607.33 444.41 C608.62 444.73 609.91 445.03 611.20 445.34 C612.49 445.64 613.78 445.93 615.08 446.23 C616.37 446.53 617.66 446.83 618.95 447.15 C620.24 447.46 621.53 447.78 622.83 448.12 C624.12 448.46 625.41 448.81 626.70 449.18 C627.99 449.55 629.28 449.92 630.58 450.33 C631.87 450.73 633.16 451.14 634.45 451.61 C635.74 452.08 637.03 452.58 638.33 453.15 C639.62 453.72 640.91 454.38 642.20 455.06 C643.49 455.75 644.78 456.51 646.08 457.29 C647.37 458.06 648.66 458.87 649.95 459.70 C651.24 460.52 652.53 461.37 653.83 462.23 C655.12 463.09 656.41 463.97 657.70 464.85 C658.99 465.73 660.28 466.62 661.58 467.52 C662.87 468.42 664.16 469.33 665.45 470.24"/>
<path class="tkm" d="M510.45 526.00V523.30M529.83 526.00V524.60M549.20 526.00V523.30M568.58 526.00V524.60M587.95 526.00V523.30M607.33 526.00V524.60M626.70 526.00V523.30M646.08 526.00V524.60M665.45 526.00V523.30M491.50 517.47H494.20M491.50 500.60H494.20M491.50 483.73H494.20M491.50 466.87H494.20M491.50 450.00H494.20M491.50 433.13H494.20M491.50 416.27H494.20M491.50 399.40H494.20M491.50 382.53H494.20M491.50 509.03H492.90M491.50 492.17H492.90M491.50 475.30H492.90M491.50 458.43H492.90M491.50 441.57H492.90M491.50 424.70H492.90M491.50 407.83H492.90M491.50 390.97H492.90"/>
<rect class="ax" x="491.50" y="374.00" width="193.10" height="152.00"/>
<text class="tk" text-anchor="end" transform="translate(489.00 519.72) rotate(0.05)">0</text>
<text class="tk" text-anchor="end" transform="translate(489.00 502.85) rotate(0.05)">10</text>
<text class="tk" text-anchor="end" transform="translate(489.00 485.98) rotate(0.05)">20</text>
<text class="tk" text-anchor="end" transform="translate(489.00 469.12) rotate(0.05)">30</text>
<text class="tk" text-anchor="end" transform="translate(489.00 452.25) rotate(0.05)">40</text>
<text class="tk" text-anchor="end" transform="translate(489.00 435.38) rotate(0.05)">50</text>
<text class="tk" text-anchor="end" transform="translate(489.00 418.52) rotate(0.05)">60</text>
<text class="tk" text-anchor="end" transform="translate(489.00 401.65) rotate(0.05)">70</text>
<text class="tk" text-anchor="end" transform="translate(489.00 384.78) rotate(0.05)">80</text>
<text class="tk" text-anchor="middle" transform="translate(510.45 535.10) rotate(0.05)">2020</text>
<text class="tk" text-anchor="middle" transform="translate(549.20 535.10) rotate(0.05)">2030</text>
<text class="tk" text-anchor="middle" transform="translate(587.95 535.10) rotate(0.05)">2040</text>
<text class="tk" text-anchor="middle" transform="translate(626.70 535.10) rotate(0.05)">2050</text>
<text class="tk" text-anchor="middle" transform="translate(665.45 535.10) rotate(0.05)">2060</text>
<text class="ti" text-anchor="middle" transform="translate(588.05 549.20) rotate(0.05)">Year</text>
<text class="ti" text-anchor="middle" transform="translate(475.70 450.00) rotate(-89.95)">Carbon emissions (MT)</text>
<text class="lt" transform="translate(467.30 373.40) rotate(0.05)">g</text>
</g>
<g id="panel-h">
<rect x="26.50" y="558.60" width="193.80" height="151.80" fill="url(#gy)"/>
<path class="bl" d="M46.40 697.92 C47.68 697.64 48.97 697.36 50.25 697.01 C51.54 696.67 52.82 696.27 54.10 695.85 C55.39 695.42 56.67 694.93 57.96 694.48 C59.24 694.04 60.53 693.63 61.81 693.18 C63.09 692.74 64.38 692.31 65.66 691.82 C66.95 691.33 68.23 690.82 69.52 690.26 C70.80 689.70 72.08 689.09 73.37 688.44 C74.65 687.79 75.94 687.12 77.22 686.36 C78.50 685.61 79.79 684.84 81.07 683.90 C82.36 682.95 83.64 681.91 84.92 680.65 C86.21 679.39 87.49 677.85 88.78 676.23 C90.06 674.62 91.35 672.62 92.63 670.91 C93.91 669.20 95.20 667.60 96.48 665.97 C97.77 664.35 99.05 662.81 100.33 661.17 C101.62 659.52 102.90 657.66 104.19 656.10 C105.47 654.55 106.76 653.22 108.04 651.82 C109.32 650.41 110.61 648.98 111.89 647.66 C113.18 646.34 114.46 645.08 115.75 643.90 C117.03 642.71 118.31 641.62 119.60 640.52 C120.88 639.41 122.17 638.38 123.45 637.27 C124.73 636.17 126.02 635.04 127.30 633.89 C128.59 632.75 129.87 631.60 131.16 630.39 C132.44 629.18 133.72 627.88 135.01 626.62 C136.29 625.37 137.58 624.13 138.86 622.86 C140.14 621.58 141.43 620.34 142.71 618.96 C144.00 617.58 145.28 616.04 146.56 614.54 C147.85 613.05 149.13 611.53 150.42 610.00 C151.70 608.46 152.99 606.90 154.27 605.32 C155.55 603.74 156.84 602.10 158.12 600.52 C159.41 598.94 160.69 597.36 161.97 595.84 C163.26 594.33 164.54 592.85 165.83 591.43 C167.11 590.00 168.40 588.59 169.68 587.27 C170.96 585.95 172.25 584.67 173.53 583.50 C174.82 582.34 176.10 581.25 177.38 580.26 C178.67 579.26 179.95 578.35 181.24 577.53 C182.52 576.71 183.81 575.96 185.09 575.32 C186.37 574.68 187.66 574.07 188.94 573.63 C190.23 573.19 191.51 572.80 192.79 572.59 C194.08 572.38 195.36 572.18 196.65 572.14 C197.93 572.10 199.22 572.08 200.50 572.07"/>
<path class="pk" d="M46.40 697.73 C47.68 697.49 48.97 697.05 50.25 696.29 C51.54 695.52 52.82 691.79 54.10 690.54 C55.39 689.30 56.67 688.55 57.96 687.78 C59.24 687.01 60.53 686.56 61.81 685.84 C63.09 685.12 64.38 684.30 65.66 683.41 C66.95 682.52 68.23 681.53 69.52 680.48 C70.80 679.43 72.08 678.25 73.37 677.08 C74.65 675.91 75.94 674.71 77.22 673.46 C78.50 672.22 79.79 671.02 81.07 669.62 C82.36 668.21 83.64 666.73 84.92 665.00 C86.21 663.27 87.49 661.25 88.78 659.17 C90.06 657.09 91.35 654.76 92.63 652.50 C93.91 650.24 95.20 647.86 96.48 645.63 C97.77 643.39 99.05 641.09 100.33 639.11 C101.62 637.14 102.90 635.29 104.19 633.73 C105.47 632.17 106.76 630.86 108.04 629.67 C109.32 628.48 110.61 627.46 111.89 626.54 C113.18 625.63 114.46 624.83 115.75 624.13 C117.03 623.43 118.31 622.86 119.60 622.32 C120.88 621.77 122.17 621.31 123.45 620.84 C124.73 620.37 126.02 619.94 127.30 619.50 C128.59 619.05 129.87 618.63 131.16 618.18 C132.44 617.74 133.72 617.29 135.01 616.82 C136.29 616.35 137.58 615.86 138.86 615.35 C140.14 614.85 141.43 614.33 142.71 613.80 C144.00 613.28 145.28 612.73 146.56 612.20 C147.85 611.66 149.13 611.12 150.42 610.58 C151.70 610.05 152.99 609.51 154.27 609.00 C155.55 608.49 156.84 607.97 158.12 607.52 C159.41 607.08 160.69 606.65 161.97 606.32 C163.26 605.99 164.54 605.69 165.83 605.52 C167.11 605.34 168.40 605.12 169.68 605.12 C170.96 605.12 172.25 605.14 173.53 605.17 C174.82 605.20 176.10 605.47 177.38 605.73 C178.67 605.99 179.95 606.39 181.24 606.82 C182.52 607.25 183.81 607.80 185.09 608.37 C186.37 608.95 187.66 609.63 188.94 610.29 C190.23 610.96 191.51 611.67 192.79 612.37 C194.08 613.06 195.36 613.76 196.65 614.47 C197.93 615.17 199.22 615.89 200.50 616.61"/>
<path class="tkm" d="M46.40 710.40V707.70M65.66 710.40V709.00M84.92 710.40V707.70M104.19 710.40V709.00M123.45 710.40V707.70M142.71 710.40V709.00M161.97 710.40V707.70M181.24 710.40V709.00M200.50 710.40V707.70M26.50 701.95H29.20M26.50 685.05H29.20M26.50 668.15H29.20M26.50 651.25H29.20M26.50 634.35H29.20M26.50 617.45H29.20M26.50 600.55H29.20M26.50 583.65H29.20M26.50 566.75H29.20M26.50 693.50H27.90M26.50 676.60H27.90M26.50 659.70H27.90M26.50 642.80H27.90M26.50 625.90H27.90M26.50 609.00H27.90M26.50 592.10H27.90M26.50 575.20H27.90"/>
<rect class="ax" x="26.50" y="558.60" width="193.80" height="151.80"/>
<text class="tk" text-anchor="end" transform="translate(24.00 704.20) rotate(0.05)">0</text>
<text class="tk" text-anchor="end" transform="translate(24.00 687.30) rotate(0.05)">20</text>
<text class="tk" text-anchor="end" transform="translate(24.00 670.40) rotate(0.05)">40</text>
<text class="tk" text-anchor="end" transform="translate(24.00 653.50) rotate(0.05)">60</text>
<text class="tk" text-anchor="end" transform="translate(24.00 636.60) rotate(0.05)">80</text>
<text class="tk" text-anchor="end" transform="translate(24.00 619.70) rotate(0.05)">100</text>
<text class="tk" text-anchor="end" transform="translate(24.00 602.80) rotate(0.05)">120</text>
<text class="tk" text-anchor="end" transform="translate(24.00 585.90) rotate(0.05)">140</text>
<text class="tk" text-anchor="end" transform="translate(24.00 569.00) rotate(0.05)">160</text>
<text class="tk" text-anchor="middle" transform="translate(46.40 719.50) rotate(0.05)">2020</text>
<text class="tk" text-anchor="middle" transform="translate(84.92 719.50) rotate(0.05)">2030</text>
<text class="tk" text-anchor="middle" transform="translate(123.45 719.50) rotate(0.05)">2040</text>
<text class="tk" text-anchor="middle" transform="translate(161.97 719.50) rotate(0.05)">2050</text>
<text class="tk" text-anchor="middle" transform="translate(200.50 719.50) rotate(0.05)">2060</text>
<text class="ti" text-anchor="middle" transform="translate(123.40 733.60) rotate(0.05)">Year</text>
<text class="ti" text-anchor="middle" transform="translate(6.50 634.50) rotate(-89.95)">Carbon emissions (MT)</text>
<text class="lt" transform="translate(1.60 554.70) rotate(0.05)">h</text>
</g>
<g id="panel-i">
<rect x="257.50" y="558.60" width="193.20" height="151.80" fill="url(#gy)"/>
<path class="bl" d="M276.90 699.75 C278.19 699.61 279.48 699.47 280.76 699.32 C282.05 699.17 283.34 699.02 284.63 698.85 C285.92 698.67 287.21 698.46 288.50 698.27 C289.78 698.07 291.07 697.89 292.36 697.69 C293.65 697.48 294.94 697.28 296.22 697.05 C297.51 696.83 298.80 696.58 300.09 696.31 C301.38 696.05 302.67 695.77 303.95 695.47 C305.24 695.17 306.53 694.87 307.82 694.52 C309.11 694.17 310.40 693.77 311.69 693.36 C312.97 692.95 314.26 692.54 315.55 692.04 C316.84 691.54 318.13 690.94 319.41 690.35 C320.70 689.76 321.99 689.13 323.28 688.50 C324.57 687.88 325.86 687.23 327.14 686.60 C328.43 685.97 329.72 685.34 331.01 684.70 C332.30 684.06 333.59 683.36 334.88 682.75 C336.16 682.13 337.45 681.58 338.74 681.00 C340.03 680.43 341.32 679.85 342.61 679.32 C343.89 678.78 345.18 678.27 346.47 677.78 C347.76 677.30 349.05 676.86 350.33 676.41 C351.62 675.96 352.91 675.54 354.20 675.09 C355.49 674.64 356.78 674.19 358.06 673.72 C359.35 673.25 360.64 672.79 361.93 672.29 C363.22 671.80 364.51 671.27 365.79 670.76 C367.08 670.25 368.37 669.75 369.66 669.23 C370.95 668.71 372.24 668.21 373.52 667.65 C374.81 667.09 376.10 666.46 377.39 665.85 C378.68 665.25 379.97 664.63 381.25 664.01 C382.54 663.38 383.83 662.75 385.12 662.10 C386.41 661.46 387.70 660.79 388.99 660.15 C390.27 659.51 391.56 658.87 392.85 658.25 C394.14 657.64 395.43 657.04 396.72 656.46 C398.00 655.88 399.29 655.30 400.58 654.77 C401.87 654.23 403.16 653.71 404.44 653.24 C405.73 652.76 407.02 652.32 408.31 651.92 C409.60 651.51 410.89 651.14 412.18 650.81 C413.46 650.47 414.75 650.17 416.04 649.91 C417.33 649.65 418.62 649.40 419.90 649.22 C421.19 649.04 422.48 648.89 423.77 648.80 C425.06 648.72 426.35 648.63 427.63 648.62 C428.92 648.60 430.21 648.59 431.50 648.59"/>
<path class="pk" d="M276.90 699.06 C278.19 698.93 279.48 698.77 280.76 698.24 C282.05 697.72 283.34 679.82 284.63 676.59 C285.92 673.36 287.21 672.35 288.50 670.35 C289.78 668.35 291.07 666.53 292.36 664.59 C293.65 662.64 294.94 660.69 296.22 658.69 C297.51 656.69 298.80 654.70 300.09 652.59 C301.38 650.47 302.67 648.38 303.95 645.99 C305.24 643.60 306.53 641.06 307.82 638.18 C309.11 635.30 310.40 632.00 311.69 628.63 C312.97 625.25 314.26 621.49 315.55 617.91 C316.84 614.34 318.13 610.58 319.41 607.16 C320.70 603.74 321.99 600.35 323.28 597.37 C324.57 594.39 325.86 591.62 327.14 589.19 C328.43 586.75 329.72 584.50 331.01 582.68 C332.30 580.86 333.59 579.19 334.88 578.10 C336.16 577.00 337.45 575.93 338.74 575.75 C340.03 575.58 341.32 575.47 342.61 575.47 C343.89 575.47 345.18 576.20 346.47 576.80 C347.76 577.41 349.05 578.35 350.33 579.26 C351.62 580.16 352.91 581.22 354.20 582.24 C355.49 583.26 356.78 584.32 358.06 585.37 C359.35 586.42 360.64 587.49 361.93 588.54 C363.22 589.59 364.51 590.65 365.79 591.68 C367.08 592.70 368.37 593.74 369.66 594.70 C370.95 595.66 372.24 596.60 373.52 597.46 C374.81 598.31 376.10 599.08 377.39 599.84 C378.68 600.60 379.97 601.28 381.25 602.01 C382.54 602.75 383.83 603.46 385.12 604.23 C386.41 605.00 387.70 605.80 388.99 606.63 C390.27 607.46 391.56 608.33 392.85 609.24 C394.14 610.14 395.43 611.08 396.72 612.06 C398.00 613.04 399.29 614.05 400.58 615.10 C401.87 616.14 403.16 617.21 404.44 618.32 C405.73 619.43 407.02 620.56 408.31 621.76 C409.60 622.96 410.89 624.20 412.18 625.53 C413.46 626.85 414.75 628.26 416.04 629.71 C417.33 631.15 418.62 632.68 419.90 634.19 C421.19 635.70 422.48 637.24 423.77 638.76 C425.06 640.28 426.35 641.80 427.63 643.32 C428.92 644.84 430.21 646.36 431.50 647.88"/>
<path class="tkm" d="M276.90 710.40V707.70M296.22 710.40V709.00M315.55 710.40V707.70M334.88 710.40V709.00M354.20 710.40V707.70M373.52 710.40V709.00M392.85 710.40V707.70M412.18 710.40V709.00M431.50 710.40V707.70M257.50 701.38H260.20M257.50 683.55H260.20M257.50 665.71H260.20M257.50 647.88H260.20M257.50 630.04H260.20M257.50 612.21H260.20M257.50 594.37H260.20M257.50 576.54H260.20M257.50 692.46H258.90M257.50 674.63H258.90M257.50 656.79H258.90M257.50 638.96H258.90M257.50 621.12H258.90M257.50 603.29H258.90M257.50 585.45H258.90M257.50 567.62H258.90"/>
<rect class="ax" x="257.50" y="558.60" width="193.20" height="151.80"/>
<text class="tk" text-anchor="end" transform="translate(255.00 703.63) rotate(0.05)">0</text>
<text class="tk" text-anchor="end" transform="translate(255.00 685.80) rotate(0.05)">10</text>
<text class="tk" text-anchor="end" transform="translate(255.00 667.96) rotate(0.05)">20</text>
<text class="tk" text-anchor="end" transform="translate(255.00 650.13) rotate(0.05)">30</text>
<text class="tk" text-anchor="end" transform="translate(255.00 632.29) rotate(0.05)">40</text>
<text class="tk" text-anchor="end" transform="translate(255.00 614.46) rotate(0.05)">50</text>
<text class="tk" text-anchor="end" transform="translate(255.00 596.62) rotate(0.05)">60</text>
<text class="tk" text-anchor="end" transform="translate(255.00 578.79) rotate(0.05)">70</text>
<text class="tk" text-anchor="end" transform="translate(255.00 560.95) rotate(0.05)">80</text>
<text class="tk" text-anchor="middle" transform="translate(276.90 719.50) rotate(0.05)">2020</text>
<text class="tk" text-anchor="middle" transform="translate(315.55 719.50) rotate(0.05)">2030</text>
<text class="tk" text-anchor="middle" transform="translate(354.20 719.50) rotate(0.05)">2040</text>
<text class="tk" text-anchor="middle" transform="translate(392.85 719.50) rotate(0.05)">2050</text>
<text class="tk" text-anchor="middle" transform="translate(431.50 719.50) rotate(0.05)">2060</text>
<text class="ti" text-anchor="middle" transform="translate(354.10 733.60) rotate(0.05)">Year</text>
<text class="ti" text-anchor="middle" transform="translate(242.40 634.50) rotate(-89.95)">Carbon emissions (MT)</text>
<text class="lt" transform="translate(231.80 554.70) rotate(0.05)">i</text>
</g>
<g id="panel-j">
<rect x="491.50" y="558.60" width="193.10" height="151.80" fill="url(#gy)"/>
<path class="bl" d="M510.45 694.00 C511.74 693.79 513.03 693.57 514.33 693.34 C515.62 693.11 516.91 692.88 518.20 692.61 C519.49 692.34 520.78 692.02 522.08 691.72 C523.37 691.42 524.66 691.13 525.95 690.82 C527.24 690.51 528.53 690.20 529.83 689.85 C531.12 689.49 532.41 689.11 533.70 688.71 C534.99 688.30 536.28 687.87 537.58 687.40 C538.87 686.94 540.16 686.48 541.45 685.94 C542.74 685.40 544.03 684.79 545.33 684.15 C546.62 683.51 547.91 682.88 549.20 682.12 C550.49 681.35 551.78 680.42 553.08 679.51 C554.37 678.60 555.66 677.63 556.95 676.66 C558.24 675.70 559.53 674.71 560.83 673.74 C562.12 672.76 563.41 671.80 564.70 670.81 C565.99 669.82 567.28 668.74 568.58 667.80 C569.87 666.85 571.16 665.99 572.45 665.11 C573.74 664.23 575.03 663.33 576.33 662.51 C577.62 661.68 578.91 660.89 580.20 660.15 C581.49 659.40 582.78 658.72 584.08 658.03 C585.37 657.34 586.66 656.69 587.95 656.00 C589.24 655.31 590.53 654.60 591.83 653.88 C593.12 653.16 594.41 652.44 595.70 651.68 C596.99 650.93 598.28 650.11 599.58 649.32 C600.87 648.54 602.16 647.77 603.45 646.97 C604.74 646.17 606.03 645.39 607.33 644.52 C608.62 643.66 609.91 642.69 611.20 641.76 C612.49 640.82 613.78 639.87 615.08 638.91 C616.37 637.95 617.66 636.97 618.95 635.98 C620.24 634.99 621.53 633.96 622.83 632.97 C624.12 631.98 625.41 630.99 626.70 630.04 C627.99 629.09 629.28 628.17 630.58 627.27 C631.87 626.38 633.16 625.50 634.45 624.67 C635.74 623.84 637.03 623.04 638.33 622.31 C639.62 621.58 640.91 620.90 642.20 620.28 C643.49 619.66 644.78 619.08 646.08 618.57 C647.37 618.06 648.66 617.59 649.95 617.18 C651.24 616.78 652.53 616.40 653.83 616.13 C655.12 615.85 656.41 615.61 657.70 615.48 C658.99 615.34 660.28 615.21 661.58 615.19 C662.87 615.17 664.16 615.16 665.45 615.15"/>
<path class="pk" d="M510.45 692.05 C511.74 691.88 513.03 691.67 514.33 691.01 C515.62 690.34 516.91 672.98 518.20 669.51 C519.49 666.03 520.78 664.80 522.08 662.61 C523.37 660.43 524.66 658.47 525.95 656.39 C527.24 654.31 528.53 652.26 529.83 650.15 C531.12 648.03 532.41 645.91 533.70 643.71 C534.99 641.52 536.28 639.31 537.58 636.95 C538.87 634.59 540.16 632.15 541.45 629.52 C542.74 626.90 544.03 624.10 545.33 621.18 C546.62 618.26 547.91 615.13 549.20 612.00 C550.49 608.87 551.78 605.52 553.08 602.40 C554.37 599.28 555.66 596.09 556.95 593.26 C558.24 590.42 559.53 587.70 560.83 585.35 C562.12 583.00 563.41 580.80 564.70 579.05 C565.99 577.31 567.28 575.74 568.58 574.69 C569.87 573.63 571.16 572.60 572.45 572.39 C573.74 572.17 575.03 572.01 576.33 572.01 C577.62 572.01 578.91 572.70 580.20 573.28 C581.49 573.86 582.78 574.78 584.08 575.66 C585.37 576.54 586.66 577.56 587.95 578.57 C589.24 579.58 590.53 580.65 591.83 581.70 C593.12 582.74 594.41 583.84 595.70 584.85 C596.99 585.87 598.28 586.88 599.58 587.81 C600.87 588.74 602.16 589.59 603.45 590.44 C604.74 591.28 606.03 592.07 607.33 592.87 C608.62 593.67 609.91 594.44 611.20 595.23 C612.49 596.02 613.78 596.78 615.08 597.60 C616.37 598.42 617.66 599.25 618.95 600.13 C620.24 601.01 621.53 601.96 622.83 602.90 C624.12 603.85 625.41 604.84 626.70 605.81 C627.99 606.78 629.28 607.74 630.58 608.71 C631.87 609.68 633.16 610.64 634.45 611.64 C635.74 612.64 637.03 613.65 638.33 614.72 C639.62 615.78 640.91 616.88 642.20 618.03 C643.49 619.19 644.78 620.39 646.08 621.65 C647.37 622.92 648.66 624.26 649.95 625.62 C651.24 626.98 652.53 628.41 653.83 629.79 C655.12 631.16 656.41 632.55 657.70 633.87 C658.99 635.19 660.28 636.46 661.58 637.71 C662.87 638.97 664.16 640.18 665.45 641.39"/>
<path class="tkm" d="M510.45 710.40V707.70M529.83 710.40V709.00M549.20 710.40V707.70M568.58 710.40V709.00M587.95 710.40V707.70M607.33 710.40V709.00M626.70 710.40V707.70M646.08 710.40V709.00M665.45 710.40V707.70M491.50 696.52H494.20M491.50 668.95H494.20M491.50 641.39H494.20M491.50 613.83H494.20M491.50 586.26H494.20M491.50 682.74H492.90M491.50 655.17H492.90M491.50 627.61H492.90M491.50 600.05H492.90M491.50 572.48H492.90"/>
<rect class="ax" x="491.50" y="558.60" width="193.10" height="151.80"/>
<text class="tk" text-anchor="end" transform="translate(489.00 698.77) rotate(0.05)">0</text>
<text class="tk" text-anchor="end" transform="translate(489.00 671.20) rotate(0.05)">5</text>
<text class="tk" text-anchor="end" transform="translate(489.00 643.64) rotate(0.05)">10</text>
<text class="tk" text-anchor="end" transform="translate(489.00 616.08) rotate(0.05)">15</text>
<text class="tk" text-anchor="end" transform="translate(489.00 588.51) rotate(0.05)">20</text>
<text class="tk" text-anchor="end" transform="translate(489.00 560.95) rotate(0.05)">25</text>
<text class="tk" text-anchor="middle" transform="translate(510.45 719.50) rotate(0.05)">2020</text>
<text class="tk" text-anchor="middle" transform="translate(549.20 719.50) rotate(0.05)">2030</text>
<text class="tk" text-anchor="middle" transform="translate(587.95 719.50) rotate(0.05)">2040</text>
<text class="tk" text-anchor="middle" transform="translate(626.70 719.50) rotate(0.05)">2050</text>
<text class="tk" text-anchor="middle" transform="translate(665.45 719.50) rotate(0.05)">2060</text>
<text class="ti" text-anchor="middle" transform="translate(588.05 733.60) rotate(0.05)">Year</text>
<text class="ti" text-anchor="middle" transform="translate(475.70 634.50) rotate(-89.95)">Carbon emissions (MT)</text>
<text class="lt" transform="translate(467.30 554.70) rotate(0.05)">j</text>
</g>
<g id="panel-k">
<rect x="259.60" y="195.50" width="196.40" height="328.90" fill="url(#gk)"/>
<path class="bl" d="M278.70 499.65 C280.01 499.04 281.33 498.43 282.64 497.70 C283.96 496.96 285.27 496.09 286.59 495.18 C287.90 494.28 289.22 493.21 290.53 492.25 C291.85 491.30 293.17 490.42 294.48 489.46 C295.80 488.51 297.11 487.58 298.43 486.53 C299.74 485.49 301.06 484.39 302.37 483.18 C303.69 481.98 305.00 480.67 306.31 479.28 C307.63 477.89 308.94 476.43 310.26 474.81 C311.57 473.19 312.89 471.54 314.20 469.51 C315.52 467.48 316.83 465.25 318.15 462.53 C319.46 459.82 320.78 456.52 322.09 453.05 C323.41 449.57 324.72 445.28 326.04 441.60 C327.35 437.93 328.67 434.49 329.99 431.00 C331.30 427.51 332.62 424.12 333.93 420.67 C335.25 417.23 336.56 413.60 337.88 410.35 C339.19 407.10 340.50 404.16 341.82 401.14 C343.13 398.12 344.45 395.04 345.76 392.21 C347.08 389.38 348.39 386.67 349.71 384.12 C351.02 381.56 352.34 379.14 353.65 376.86 C354.97 374.59 356.29 372.63 357.60 370.44 C358.92 368.26 360.23 366.07 361.55 363.75 C362.86 361.42 364.18 358.91 365.49 356.49 C366.81 354.07 368.12 351.74 369.44 349.23 C370.75 346.72 372.06 344.12 373.38 341.42 C374.69 338.72 376.01 335.93 377.32 333.05 C378.64 330.17 379.95 327.14 381.27 324.12 C382.58 321.10 383.90 318.16 385.22 314.91 C386.53 311.66 387.84 308.07 389.16 304.58 C390.47 301.10 391.79 297.47 393.11 293.98 C394.42 290.49 395.74 287.00 397.05 283.65 C398.37 280.31 399.68 277.10 401.00 273.89 C402.31 270.68 403.62 267.51 404.94 264.40 C406.25 261.28 407.57 258.17 408.88 255.19 C410.20 252.21 411.51 249.08 412.83 246.54 C414.14 244.00 415.46 241.78 416.77 239.84 C418.09 237.91 419.41 236.13 420.72 234.82 C422.04 233.51 423.35 232.51 424.66 231.75 C425.98 230.99 427.30 230.40 428.61 230.07 C429.93 229.75 431.24 229.45 432.56 229.38 C433.87 229.30 435.19 229.26 436.50 229.24"/>
<path class="pk" d="M278.70 497.34 C280.01 496.54 281.33 495.72 282.64 495.11 C283.96 494.51 285.27 494.31 286.59 493.63 C287.90 492.95 289.22 491.29 290.53 490.33 C291.85 489.38 293.17 488.71 294.48 487.86 C295.80 487.00 297.11 486.17 298.43 485.22 C299.74 484.26 301.06 483.24 302.37 482.12 C303.69 481.01 305.00 479.78 306.31 478.50 C307.63 477.22 308.94 475.86 310.26 474.43 C311.57 473.00 312.89 471.55 314.20 469.91 C315.52 468.28 316.83 466.56 318.15 464.60 C319.46 462.64 320.78 460.36 322.09 458.09 C323.41 455.82 324.72 453.27 326.04 450.96 C327.35 448.64 328.67 446.29 329.99 444.20 C331.30 442.10 332.62 440.06 333.93 438.36 C335.25 436.67 336.56 435.10 337.88 433.94 C339.19 432.77 340.50 431.83 341.82 431.16 C343.13 430.49 344.45 430.01 345.76 429.72 C347.08 429.42 348.39 429.19 349.71 429.08 C351.02 428.97 352.34 428.85 353.65 428.85 C354.97 428.85 356.29 428.86 357.60 428.87 C358.92 428.89 360.23 428.98 361.55 429.02 C362.86 429.07 364.18 429.12 365.49 429.15 C366.81 429.18 368.12 429.21 369.44 429.22 C370.75 429.23 372.06 429.25 373.38 429.25 C374.69 429.25 376.01 429.25 377.32 429.24 C378.64 429.24 379.95 429.20 381.27 429.17 C382.58 429.13 383.90 429.08 385.22 429.02 C386.53 428.97 387.84 428.90 389.16 428.84 C390.47 428.78 391.79 428.68 393.11 428.67 C394.42 428.65 395.74 428.63 397.05 428.63 C398.37 428.63 399.68 428.81 401.00 428.97 C402.31 429.14 403.62 429.49 404.94 429.88 C406.25 430.27 407.57 430.80 408.88 431.36 C410.20 431.93 411.51 432.60 412.83 433.30 C414.14 434.01 415.46 434.82 416.77 435.61 C418.09 436.40 419.41 437.25 420.72 438.04 C422.04 438.83 423.35 439.61 424.66 440.35 C425.98 441.09 427.30 441.80 428.61 442.47 C429.93 443.14 431.24 443.77 432.56 444.39 C433.87 445.00 435.19 445.58 436.50 446.16"/>
<path class="tkm" d="M278.70 524.40V521.70M298.43 524.40V523.00M318.15 524.40V521.70M337.88 524.40V523.00M357.60 524.40V521.70M377.32 524.40V523.00M397.05 524.40V521.70M416.77 524.40V523.00M436.50 524.40V521.70M259.60 508.30H262.30M259.60 475.33H262.30M259.60 442.37H262.30M259.60 409.40H262.30M259.60 376.43H262.30M259.60 343.47H262.30M259.60 310.50H262.30M259.60 277.53H262.30M259.60 244.57H262.30M259.60 211.60H262.30M259.60 491.82H261.00M259.60 458.85H261.00M259.60 425.88H261.00M259.60 392.92H261.00M259.60 359.95H261.00M259.60 326.98H261.00M259.60 294.02H261.00M259.60 261.05H261.00M259.60 228.08H261.00"/>
<rect class="ax" x="259.60" y="195.50" width="196.40" height="328.90"/>
<text class="tk" text-anchor="end" transform="translate(257.10 510.55) rotate(0.05)">0</text>
<text class="tk" text-anchor="end" transform="translate(257.10 477.58) rotate(0.05)">200</text>
<text class="tk" text-anchor="end" transform="translate(257.10 444.62) rotate(0.05)">400</text>
<text class="tk" text-anchor="end" transform="translate(257.10 411.65) rotate(0.05)">600</text>
<text class="tk" text-anchor="end" transform="translate(257.10 378.68) rotate(0.05)">800</text>
<text class="tk" text-anchor="end" transform="translate(257.10 345.72) rotate(0.05)">1000</text>
<text class="tk" text-anchor="end" transform="translate(257.10 312.75) rotate(0.05)">1200</text>
<text class="tk" text-anchor="end" transform="translate(257.10 279.78) rotate(0.05)">1400</text>
<text class="tk" text-anchor="end" transform="translate(257.10 246.82) rotate(0.05)">1600</text>
<text class="tk" text-anchor="end" transform="translate(257.10 213.85) rotate(0.05)">1800</text>
<text class="tk" text-anchor="middle" transform="translate(278.70 533.50) rotate(0.05)">2020</text>
<text class="tk" text-anchor="middle" transform="translate(318.15 533.50) rotate(0.05)">2030</text>
<text class="tk" text-anchor="middle" transform="translate(357.60 533.50) rotate(0.05)">2040</text>
<text class="tk" text-anchor="middle" transform="translate(397.05 533.50) rotate(0.05)">2050</text>
<text class="tk" text-anchor="middle" transform="translate(436.50 533.50) rotate(0.05)">2060</text>
<text class="ti" text-anchor="middle" style="font-size:10.5px" transform="translate(357.80 547.60) rotate(0.05)">Year</text>
<text class="ti" text-anchor="middle" style="font-size:10.5px" transform="translate(234.60 359.95) rotate(-89.95)">Carbon emissions (MT)</text>
<text class="lt" transform="translate(231.80 191.30) rotate(0.05)">k</text>
<path class="bl" style="stroke-linecap:butt;stroke-width:1.6;stroke-opacity:0.9" d="M271.4 208.9H295.2"/>
<path class="pk" style="stroke-linecap:butt;stroke-width:1.6;stroke-opacity:0.9" d="M271.4 222.3H295.2"/>
<text class="lg" transform="translate(298.00 212.30) rotate(0.05)">Baseline scenario</text>
<text class="lg" transform="translate(298.00 225.70) rotate(0.05)">Policy scenario</text>
</g>
</svg></body></html>
